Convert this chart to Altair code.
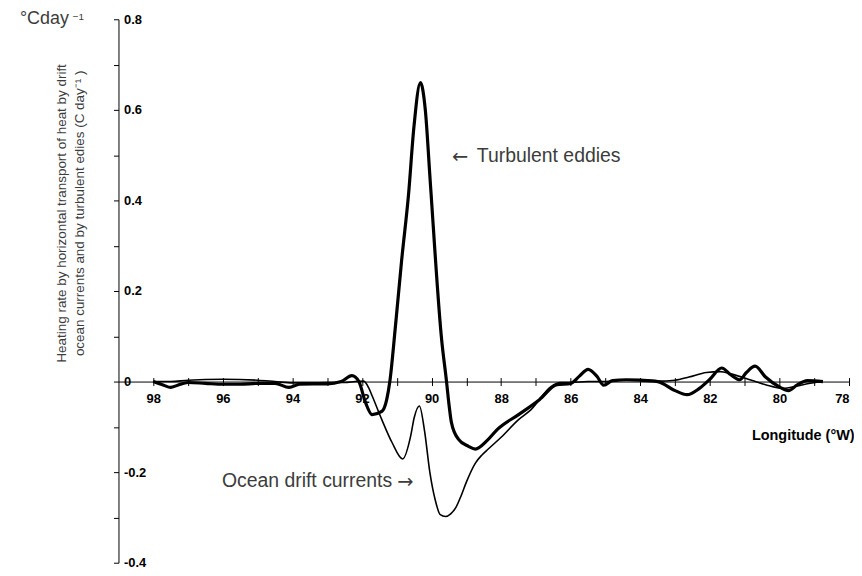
import altair as alt
import pandas as pd

# Turbulent eddies (thick line): longitude (°W), heating rate (°C/day)
eddy_lon = [98.0, 97.7, 97.5, 97.3, 97.0, 96.5, 96.0, 95.5, 95.0, 94.5, 94.1, 93.8, 93.4, 93.0,
            92.6, 92.29, 92.09, 91.9, 91.71, 91.43, 91.29, 91.2, 91.04, 90.86, 90.66, 90.51,
            90.32, 90.18, 90.04, 89.71, 89.57, 89.5, 89.43, 89.23, 88.94, 88.74, 88.4, 88.1,
            87.5, 86.9, 86.4, 86.0, 85.75, 85.5, 85.25, 85.05, 84.8, 84.4, 84.0, 83.5, 83.0,
            82.66, 82.3, 82.0, 81.66, 81.4, 81.14, 80.95, 80.7, 80.4, 80.0, 79.74, 79.5, 79.2,
            78.75]
eddy_val = [0.0, -0.008, -0.013, -0.008, -0.002, -0.004, -0.006, -0.006, -0.004, -0.004, -0.013,
            -0.006, -0.005, -0.005, 0.0, 0.013, 0.0, -0.046, -0.073, -0.066, -0.04, 0.0, 0.121,
            0.268, 0.415, 0.56, 0.66, 0.6, 0.444, 0.092, 0.0, -0.05, -0.09, -0.127, -0.143,
            -0.149, -0.13, -0.105, -0.073, -0.04, -0.007, -0.004, 0.012, 0.027, 0.012, -0.008,
            0.002, 0.004, 0.003, 0.0, -0.02, -0.029, -0.015, 0.005, 0.03, 0.015, 0.004, 0.02,
            0.034, 0.01, -0.012, -0.02, -0.008, 0.002, 0.0]

# Ocean drift currents (thin line)
drift_lon = [98.0, 97.5, 97.0, 96.0, 95.0, 94.5, 94.0, 93.5, 93.0, 92.5, 92.2, 91.95, 91.8, 91.7,
             91.43, 91.14, 90.83, 90.6, 90.5, 90.35, 90.2, 90.05, 89.9, 89.75, 89.6, 89.45,
             89.3, 89.15, 89.0, 88.74, 88.55, 88.37, 88.0, 87.5, 87.14, 86.57, 86.3, 86.0, 85.5,
             85.0, 84.5, 84.0, 83.5, 83.0, 82.6, 82.1, 81.7, 81.4, 81.0, 80.4, 79.9, 79.5, 79.2,
             78.75]
drift_val = [0.0, 0.0, 0.003, 0.005, 0.003, 0.0, -0.003, -0.003, -0.002, -0.002, 0.0, 0.001,
             -0.015, -0.033, -0.084, -0.134, -0.171, -0.12, -0.08, -0.054, -0.11, -0.2, -0.26,
             -0.294, -0.298, -0.292, -0.278, -0.252, -0.222, -0.18, -0.162, -0.149, -0.123,
             -0.084, -0.062, -0.011, -0.002, -0.002, 0.0, 0.0, 0.003, 0.003, 0.001, 0.003, 0.01,
             0.02, 0.022, 0.017, 0.008, -0.007, -0.015, -0.01, -0.005, 0.0]

x_ticks = [98, 97, 96, 95, 94, 93, 92, 91, 90, 89, 88, 87, 86, 85, 84, 83, 82, 81, 80, 79, 78]
y_ticks = [-0.4, -0.3, -0.2, -0.1, 0.0, 0.1, 0.2, 0.3, 0.4, 0.5, 0.6, 0.7, 0.8]

W, H = 734, 546
FONT = "Liberation Sans"
TXT = "#3c3c3c"

df = pd.concat([
    pd.DataFrame({"lon": eddy_lon, "val": eddy_val, "series": "Turbulent eddies"}),
    pd.DataFrame({"lon": drift_lon, "val": drift_val, "series": "Ocean drift currents"}),
])

xscale = alt.Scale(domain=[78, 99], reverse=True, nice=False, zero=False)
yscale = alt.Scale(domain=[-0.4, 0.8], nice=False, zero=False)

y_label_expr = ("abs(round(datum.value*10)) % 2 == 1 ? '' : (round(datum.value*10) == 0 ? '0' : "
                "(datum.value < 0 ? '-' + format(-datum.value, '.1f') : format(datum.value, '.1f')))")

x_bottom = alt.Axis(values=x_ticks, orient="bottom", offset=-182, tickSize=4, tickColor="black",
                    domainColor="black", labelFont=FONT, labelFontWeight="bold", labelFontSize=13,
                    labelColor="black", labelPadding=7, title=None, grid=False,
                    labelExpr="datum.value % 2 == 0 ? datum.label : ''")
x_top = alt.Axis(values=x_ticks, orient="top", offset=-364, tickSize=4, tickColor="black",
                 domain=False, labels=False, title=None, grid=False)
y_axis = alt.Axis(values=y_ticks, tickSize=5, tickColor="black", domainColor="black",
                  labelFont=FONT, labelFontWeight="bold", labelFontSize=13, labelColor="black",
                  labelAlign="left", labelPadding=-10, title=None, grid=False,
                  labelExpr=y_label_expr)

eddy = alt.Chart(df).transform_filter(alt.datum.series == "Turbulent eddies").mark_line(
    interpolate="monotone", color="black", strokeWidth=3.2).encode(
    x=alt.X("lon:Q", scale=xscale, axis=x_bottom),
    y=alt.Y("val:Q", scale=yscale, axis=y_axis),
)
drift = alt.Chart(df).transform_filter(alt.datum.series == "Ocean drift currents").mark_line(
    interpolate="monotone", color="black", strokeWidth=1.6).encode(
    x=alt.X("lon:Q", scale=xscale, axis=x_top),
    y=alt.Y("val:Q", scale=yscale),
)

def txt(text, x, y, size, weight="normal", align="left", angle=0, color=TXT,
        baseline="middle", font=FONT):
    return alt.Chart(pd.DataFrame({"t": [text]})).mark_text(
        font=font, fontSize=size, fontWeight=weight, align=align, baseline=baseline,
        angle=angle, color=color).encode(text="t:N", x=alt.value(x), y=alt.value(y))

texts = [
    txt("←", 335, 138, 19.5, font="DejaVu Sans"),
    txt("Turbulent eddies", 360, 137, 19.5),
    txt("Ocean drift currents", 275, 464, 19.5, align="right"),
    txt("→", 280, 465, 19.5, font="DejaVu Sans"),
    txt("Longitude (°W)", 688, 419, 14.5, weight="bold", align="center", color="black"),
    txt("°Cday", -99, 4.5, 18, baseline="alphabetic"),
    txt("−1", -46, 0.5, 10, baseline="alphabetic"),
    txt("Heating rate by horizontal transport of heat by drift", -57, 195, 13.5, align="center", angle=270),
    txt("ocean currents and by turbulent edies (C day⁻¹ )", -39, 195, 13.5, align="center", angle=270),
]

chart = alt.layer(drift, eddy, *texts).properties(
    width=W, height=H,
    autosize=alt.AutoSizeParams(type="none"),
    padding={"left": 111, "top": 10, "right": 5, "bottom": 6},
).configure_view(stroke=None)

chart.save("out.html", embed_options={"renderer": "svg", "actions": False})
